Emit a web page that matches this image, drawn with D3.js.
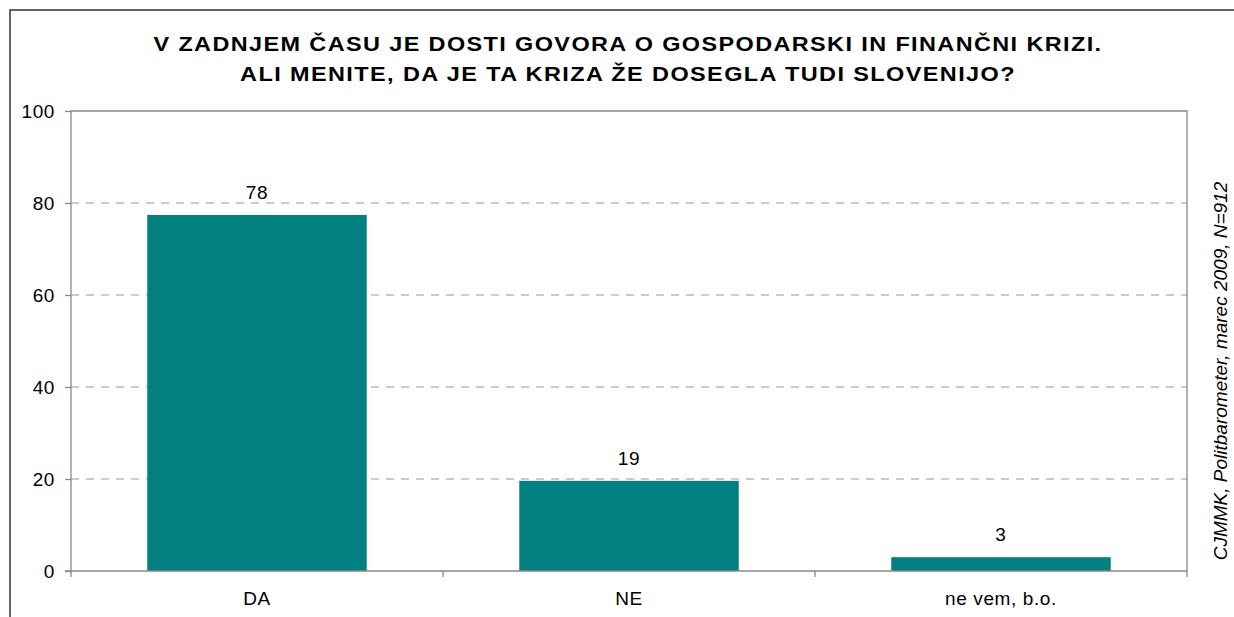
<!DOCTYPE html>
<html>
<head>
<meta charset="utf-8">
<script src="https://cdn.jsdelivr.net/npm/d3@7"></script>
<style>
  body { margin: 0; background: #fff; }
  svg text { font-family: "Liberation Sans", Arial, sans-serif; fill: #000; }
</style>
</head>
<body>
<div id="chart"></div>
<script>
// data
var categories = ["DA", "NE", "ne vem, b.o."];
var values = [77.4, 19.6, 3.0];
var valueLabels = ["78", "19", "3"];
var yTicks = [0, 20, 40, 60, 80, 100];
var titleLines = [
  "V ZADNJEM ČASU JE DOSTI GOVORA O GOSPODARSKI IN FINANČNI KRIZI.",
  "ALI MENITE, DA JE TA KRIZA ŽE DOSEGLA TUDI SLOVENIJO?"
];
var sourceNote = ["CJMMK, ", "Politbarometer, marec 2009, ", "N", "=912"];

var W = 1234, H = 617;
var plot = {left: 71, top: 111, right: 1187, bottom: 571};

var svg = d3.select("#chart").append("svg").attr("width", W).attr("height", H);

// outer frame, runs off the right and bottom
svg.append("rect")
  .attr("x", 10).attr("y", 10).attr("width", W).attr("height", H)
  .attr("fill", "none").attr("stroke", "#333").attr("stroke-width", 1.5);

var x = d3.scaleBand().domain(categories).range([plot.left, plot.right]).paddingInner(0.41).paddingOuter(0.205);
var y = d3.scaleLinear().domain([0, 100]).range([plot.bottom, plot.top]);

// gridlines
svg.append("g").selectAll("line").data(yTicks.filter(function(d){ return d > 0 && d < 100; }))
  .enter().append("line")
  .attr("x1", plot.left).attr("x2", plot.right)
  .attr("y1", function(d){ return y(d); }).attr("y2", function(d){ return y(d); })
  .attr("stroke", "#999").attr("stroke-width", 1).attr("stroke-dasharray", "8,7");

// plot frame (left, top, right)
svg.append("path")
  .attr("d", "M" + plot.left + "," + plot.bottom + "V" + plot.top + "H" + plot.right + "V" + plot.bottom)
  .attr("fill", "none").attr("stroke", "#888").attr("stroke-width", 1.3);

// bars
svg.append("g").selectAll("rect").data(values).enter().append("rect")
  .attr("x", function(d, i){ return x(categories[i]); })
  .attr("width", x.bandwidth())
  .attr("y", function(d){ return y(d); })
  .attr("height", function(d){ return y(0) - y(d); })
  .attr("fill", "#008080");

// value labels
svg.append("g").selectAll("text").data(values).enter().append("text")
  .attr("x", function(d, i){ return x(categories[i]) + x.bandwidth() / 2; })
  .attr("y", function(d){ return y(d) - 16; })
  .attr("text-anchor", "middle").attr("font-size", 19).attr("letter-spacing", 0.8)
  .text(function(d, i){ return valueLabels[i]; });

// y axis
var yAxis = svg.append("g").attr("transform", "translate(" + plot.left + ",0)")
  .call(d3.axisLeft(y).tickValues(yTicks).tickSize(6).tickPadding(10));
yAxis.select(".domain").remove();
yAxis.selectAll("line").attr("stroke", "#888").attr("stroke-width", 1.3);
yAxis.selectAll("text").attr("font-size", 19).attr("letter-spacing", 0.6)
  .attr("font-family", "Liberation Sans, Arial, sans-serif").attr("fill", "#000");

// x axis with ticks at the category boundaries
svg.append("line")
  .attr("x1", plot.left - 6).attr("x2", plot.right)
  .attr("y1", plot.bottom).attr("y2", plot.bottom)
  .attr("stroke", "#888").attr("stroke-width", 1.5);
var bounds = d3.range(categories.length + 1).map(function(i){ return plot.left + i * (plot.right - plot.left) / categories.length; });
svg.append("g").selectAll("line").data(bounds).enter().append("line")
  .attr("x1", function(d){ return d; }).attr("x2", function(d){ return d; })
  .attr("y1", plot.bottom).attr("y2", plot.bottom + 6)
  .attr("stroke", "#888").attr("stroke-width", 1.3);
svg.append("g").selectAll("text").data(categories).enter().append("text")
  .attr("x", function(d){ return x(d) + x.bandwidth() / 2; })
  .attr("y", 605)
  .attr("text-anchor", "middle").attr("font-size", 19).attr("letter-spacing", 0.6)
  .text(function(d){ return d; });

// title: wide bold glyphs, stretched sideways to the width seen in the picture
var titleWidths = [950, 776];
svg.append("g").selectAll("text").data(titleLines).enter().append("text")
  .attr("x", 0).attr("y", 0)
  .attr("text-anchor", "middle").attr("font-size", 20).attr("font-weight", "bold")
  .attr("letter-spacing", 1.2)
  .text(function(d){ return d; })
  .each(function(d, i){
    var natural = this.getBBox().width;
    var k = titleWidths[i] / natural;
    d3.select(this).attr("transform", "translate(628," + (51 + i * 30) + ") scale(" + k + ",1)");
  });

// source note on the right
var note = svg.append("text")
  .attr("transform", "translate(1227,371) rotate(-90)")
  .attr("text-anchor", "middle").attr("font-size", 19).attr("font-style", "italic");
note.selectAll("tspan").data(sourceNote).enter().append("tspan")
  .text(function(d){ return d; });
</script>
</body>
</html>
